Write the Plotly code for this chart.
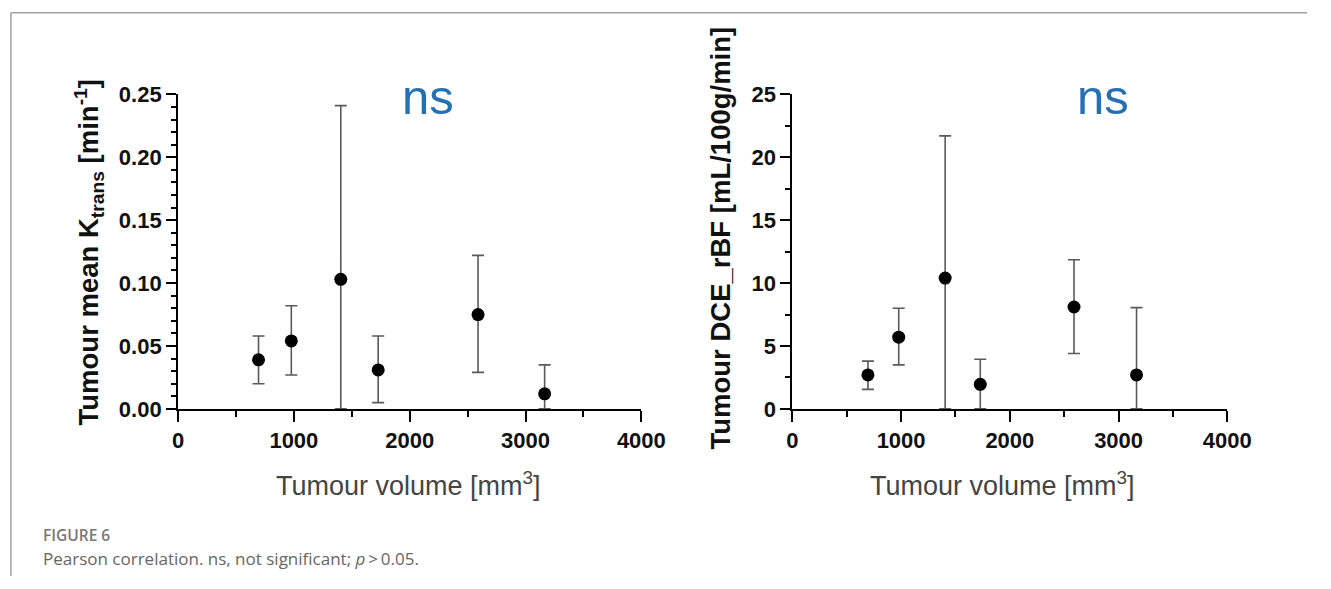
import plotly.graph_objects as go

# ---- data ----
volume = [695, 978, 1405, 1728, 2590, 3165]

ktrans_mean = [0.039, 0.054, 0.103, 0.031, 0.075, 0.012]
ktrans_upper = [0.058, 0.082, 0.241, 0.058, 0.122, 0.035]
ktrans_lower = [0.020, 0.027, 0.0, 0.005, 0.029, 0.0]

rbf_mean = [2.7, 5.7, 10.4, 1.95, 8.1, 2.7]
rbf_upper = [3.8, 8.0, 21.7, 3.95, 11.85, 8.05]
rbf_lower = [1.55, 3.5, 0.0, 0.0, 4.4, 0.0]

x_ticks = [0, 1000, 2000, 3000, 4000]
ktrans_ticks = [0.00, 0.05, 0.10, 0.15, 0.20, 0.25]
ktrans_ticklabels = ["0.00", "0.05", "0.10", "0.15", "0.20", "0.25"]
rbf_ticks = [0, 5, 10, 15, 20, 25]

W, H = 1331, 589


def px(X):
    return X / W


def py(Y):
    return (H - Y) / H


fig = go.Figure()

err_style = dict(type="data", symmetric=False, color="#5a5a5a", thickness=1.6, width=6)

fig.add_trace(go.Scatter(
    x=volume, y=ktrans_mean, mode="markers",
    marker=dict(color="black", size=13),
    error_y=dict(array=[u - m for u, m in zip(ktrans_upper, ktrans_mean)],
                 arrayminus=[m - l for m, l in zip(ktrans_mean, ktrans_lower)], **err_style),
    xaxis="x", yaxis="y", showlegend=False, cliponaxis=False,
))
fig.add_trace(go.Scatter(
    x=volume, y=rbf_mean, mode="markers",
    marker=dict(color="black", size=13),
    error_y=dict(array=[u - m for u, m in zip(rbf_upper, rbf_mean)],
                 arrayminus=[m - l for m, l in zip(rbf_mean, rbf_lower)], **err_style),
    xaxis="x2", yaxis="y2", showlegend=False, cliponaxis=False,
))

tickfont = dict(family="Liberation Sans, Arial, sans-serif", size=22, color="#111", weight="bold")


def xaxis_cfg(domain, anchor):
    return dict(domain=domain, anchor=anchor, range=[0, 4000], tickvals=x_ticks,
                showgrid=False, zeroline=False, showline=True, linecolor="black", linewidth=2,
                ticks="outside", ticklen=11, tickwidth=2, tickcolor="black",
                minor=dict(dtick=500, tick0=0, ticks="outside", ticklen=6, tickwidth=2, tickcolor="black"),
                tickfont=tickfont, fixedrange=True)


def yaxis_cfg(domain, anchor, rng, tickvals, ticktext, minor_dtick):
    return dict(domain=domain, anchor=anchor, range=rng, tickvals=tickvals, ticktext=ticktext,
                showgrid=False, zeroline=False, showline=True, linecolor="black", linewidth=2,
                ticks="outside", ticklen=10, tickwidth=2, tickcolor="black",
                minor=dict(dtick=minor_dtick, tick0=0, ticks="outside", ticklen=5, tickwidth=1.5, tickcolor="black"),
                tickfont=tickfont, fixedrange=True)


ydom = [py(414.5), py(86)]
fig.update_layout(
    width=W, height=H, margin=dict(l=0, r=0, t=0, b=0),
    paper_bgcolor="white", plot_bgcolor="white",
    xaxis=xaxis_cfg([px(176), px(650)], "y"),
    yaxis=yaxis_cfg(ydom, "x", [0, 0.25], ktrans_ticks, ktrans_ticklabels, 0.01),
    xaxis2=xaxis_cfg([px(804.5), px(1249.5)], "y2"),
    yaxis2=yaxis_cfg(ydom, "x2", [0, 25], rbf_ticks, [str(v) for v in rbf_ticks], 2.5),
)

title_font_b = dict(family="Liberation Sans, Arial, sans-serif", size=27.5, color="#111", weight="bold")
xt_font = dict(family="Liberation Sans, Arial, sans-serif", size=27, color="#444")
ns_font = dict(family="Liberation Sans, Arial, sans-serif", size=49, color="#2370b4")

ann = [
    dict(text="Tumour mean K<sub>trans</sub> [min<sup>-1</sup>]", x=px(85), y=py(251), textangle=-90, font=title_font_b),
    dict(text="Tumour DCE_rBF [mL/100g/min]", x=px(731), y=py(236), textangle=-90, font=title_font_b),
    dict(text="Tumour volume [mm<sup>3</sup>]", x=px(412), y=py(493), font=xt_font),
    dict(text="Tumour volume [mm<sup>3</sup>]", x=px(1019), y=py(493), font=xt_font),
    dict(text="ns", x=px(432), y=py(89), font=ns_font),
    dict(text="ns", x=px(1122), y=py(89), font=ns_font),
    dict(text="FIGURE 6", x=px(36), y=py(546), xanchor="left",
         font=dict(family="Open Sans, sans-serif", size=15.5, color="#777", weight=600)),
    dict(text="Pearson correlation. ns, not significant; <i>p</i>\u2009>\u20090.05.", x=px(36), y=py(571), xanchor="left",
         font=dict(family="Open Sans, sans-serif", size=17, color="#666")),
]
for a in ann:
    a.setdefault("xanchor", "center")
    fig.add_annotation(xref="paper", yref="paper", showarrow=False, yanchor="middle", **a)

# card border (top and left edges)
fig.add_shape(type="line", xref="paper", yref="paper", x0=px(5), x1=1, y0=py(0.75), y1=py(0.75),
              line=dict(color="#a0a0a0", width=1.5))
fig.add_shape(type="line", xref="paper", yref="paper", x0=px(5), x1=px(5), y0=py(0.75), y1=0,
              line=dict(color="#a0a0a0", width=1.5))

fig.write_html("out.html")
